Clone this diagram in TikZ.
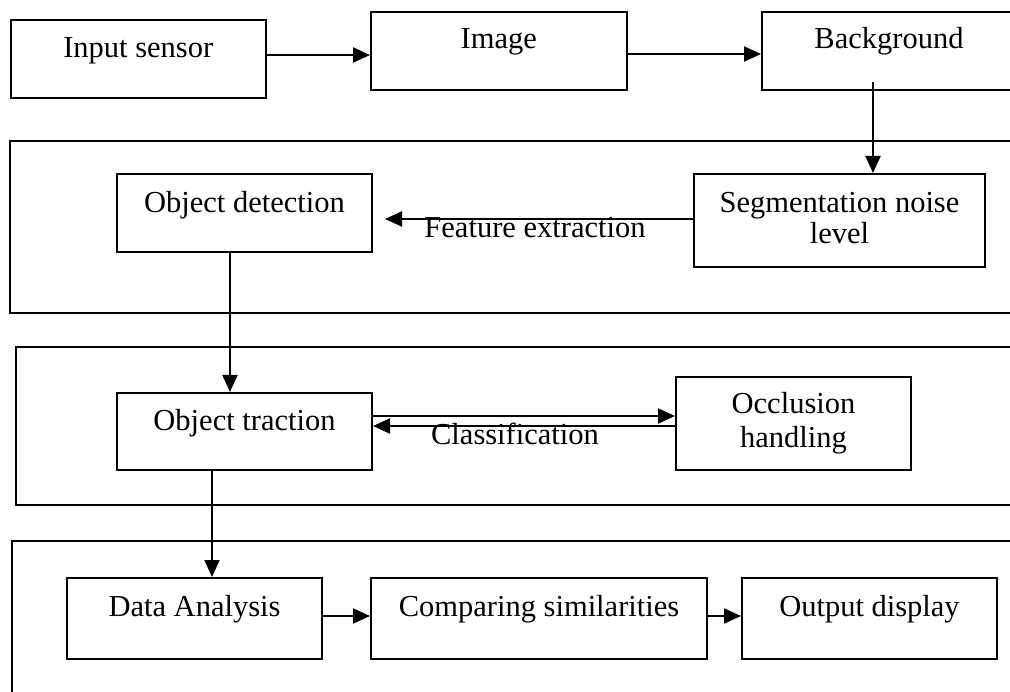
\documentclass[tikz,border=0pt]{standalone}
\usepackage{fontspec}
\setmainfont{Liberation Serif}
\usetikzlibrary{arrows.meta,calc}
\begin{document}
\begin{tikzpicture}[x=1pt,y=-1pt,
  every node/.style={font=\fontsize{30.5}{36}\selectfont},
  blk/.style={draw, line width=2pt, inner sep=0pt, anchor=north west},
  grp/.style={draw, line width=2pt},
  arr/.style={line width=2pt, -{Triangle[length=17pt,width=15pt]}},
  lbl/.style={anchor=base, inner sep=0pt}]
\useasboundingbox (0,0) rectangle (1010,692);
\clip (0,0) rectangle (1010,692);
% group frames
\draw[grp] (9.5,141) rectangle (1020,313);
\draw[grp] (16,347) rectangle (1020,505);
\draw[grp] (12,541) rectangle (1020,700);
% blocks
\node[blk, minimum width=255.5pt, minimum height=78pt, text height=38pt, text depth=40pt] (ins) at (9.5,19) {Input sensor};
\node[blk, minimum width=255.5pt, minimum height=78.3pt, text height=37.3pt, text depth=41pt] (img) at (370,10.7) {Image};
\node[blk, minimum width=254pt, minimum height=78.3pt, text height=37.3pt, text depth=41pt] (bg) at (761,10.7) {Background};
\node[blk, minimum width=255pt, minimum height=78pt, text height=39pt, text depth=39pt] (od) at (116,173) {Object detection};
\node[blk, minimum width=291pt, minimum height=93pt, text height=39pt, text depth=54pt] (seg) at (693,173) {\begin{tabular}[t]{@{}c@{}}Segmentation noise\\[-5pt]level\end{tabular}};
\node[blk, minimum width=255pt, minimum height=77pt, text height=38pt, text depth=39pt] (ot) at (116,392) {Object traction};
\node[blk, minimum width=235pt, minimum height=93pt, text height=37pt, text depth=56pt] (occ) at (675,376) {\begin{tabular}[t]{@{}c@{}}Occlusion\\[-2pt]handling\end{tabular}};
\node[blk, minimum width=255pt, minimum height=81pt, text height=38pt, text depth=43pt] (da) at (66,577) {Data Analysis};
\node[blk, minimum width=336pt, minimum height=81pt, text height=38pt, text depth=43pt] (cs) at (370,577) {Comparing similarities};
\node[blk, minimum width=255pt, minimum height=81pt, text height=38pt, text depth=43pt] (out) at (741,577) {Output display};
% connectors
\draw[arr] ([yshift=-36pt]ins.north east) -- ([yshift=-36pt]ins.north east -| img.west);
\draw[arr] ([yshift=-43.3pt]img.north east) -- ([yshift=-43.3pt]img.north east -| bg.west);
\draw[arr] ([xshift=112pt,yshift=9pt]bg.south west) -- ([xshift=112pt]bg.south west |- seg.north);
\draw[arr] ([yshift=-46pt]seg.north west) -- node[lbl, midway, xshift=-4pt, yshift=-19pt] {Feature extraction} ([xshift=12pt,yshift=-46pt]seg.north west -| od.east);
\draw[arr] ([xshift=114pt]od.south west) -- ([xshift=114pt]od.south west |- ot.north);
\draw[arr] ([yshift=-24pt]ot.north east) -- ([yshift=-24pt]ot.north east -| occ.west);
\draw[arr] ([yshift=-34pt]ot.north east -| occ.west) -- node[lbl, midway, xshift=-9pt, yshift=-19pt] {Classification} ([yshift=-34pt]ot.north east);
\draw[arr] ([xshift=96pt]ot.south west) -- ([xshift=96pt]ot.south west |- da.north);
\draw[arr] ([yshift=-39pt]da.north east) -- ([yshift=-39pt]da.north east -| cs.west);
\draw[arr] ([yshift=-39pt]cs.north east) -- ([yshift=-39pt]cs.north east -| out.west);
\end{tikzpicture}
\end{document}
